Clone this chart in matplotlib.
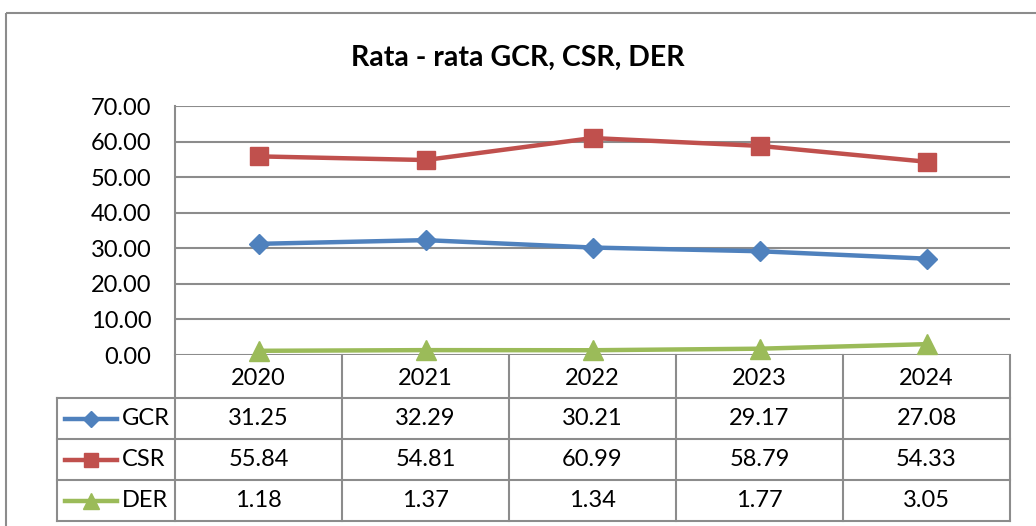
import matplotlib.pyplot as plt
from matplotlib.lines import Line2D
from matplotlib.patches import Rectangle

plt.rcParams["font.family"] = ["Lato", "DejaVu Sans"]

years = ["2020", "2021", "2022", "2023", "2024"]
gcr = [31.25, 32.29, 30.21, 29.17, 27.08]
csr = [55.84, 54.81, 60.99, 58.79, 54.33]
der = [1.18, 1.37, 1.34, 1.77, 3.05]
series_names = ["GCR", "CSR", "DER"]
yticks = [0, 10, 20, 30, 40, 50, 60, 70]

colors = ["#4F81BD", "#C0504D", "#9BBB59"]
markers = ["D", "s", "^"]
msizes = [10, 13, 15]
grid_c = "#8C8C8C"
fs = 17

W, H = 1036, 526
fig = plt.figure(figsize=(W / 100, H / 100), dpi=100)

# pixel-coordinate overlay
ov = fig.add_axes([0, 0, 1, 1])
ov.set_xlim(0, W)
ov.set_ylim(H, 0)
ov.axis("off")

# outer chart border
ov.add_patch(Rectangle((6, 13), 1100, 600, fill=False, ec="#8C8C8C", lw=1.5))

# plot area in pixels
px0, px1, py0, py1 = 175, 1010, 106, 355
ax = fig.add_axes([px0 / W, 1 - py1 / H, (px1 - px0) / W, (py1 - py0) / H])
ax.set_xlim(-0.5, len(years) - 0.5)
ax.set_ylim(0, 70)
ax.set_yticks(yticks)
ax.set_yticklabels([f"{v:.2f}" for v in yticks], fontsize=fs)
ax.set_xticks([])
ax.tick_params(axis="y", length=0, pad=17)
for s in ["top", "right", "bottom"]:
    ax.spines[s].set_visible(False)
ax.spines["left"].set_color(grid_c)
ax.spines["left"].set_linewidth(1.5)
ax.grid(axis="y", color=grid_c, lw=1.5)
ax.set_axisbelow(True)
ax.patch.set_alpha(0)

data = [gcr, csr, der]
x = list(range(len(years)))
for vals, c, m, ms in zip(data, colors, markers, msizes):
    ax.plot(x, vals, color=c, lw=3.2, marker=m, ms=ms, clip_on=False, zorder=3)

fig.text(0.5, 1 - 58 / H, "Rata - rata GCR, CSR, DER", ha="center", va="center",
         fontsize=20.5, fontweight="bold")

# data table
lx0 = 57
row_edges = [355, 398, 439, 480, 521]
colw = (px1 - px0) / len(years)
col_edges = [px0 + i * colw for i in range(len(years) + 1)]
tc = "#8C8C8C"
lw = 1.5
ov.plot([px0, px0], [row_edges[0], row_edges[-1]], color=tc, lw=lw)
for xe in col_edges[1:]:
    ov.plot([xe, xe], [row_edges[0], row_edges[-1]], color=tc, lw=lw)
ov.plot([lx0, lx0], [row_edges[1], row_edges[-1]], color=tc, lw=lw)
for ye in row_edges[1:]:
    ov.plot([lx0, px1], [ye, ye], color=tc, lw=lw)

for i, yr in enumerate(years):
    cx = (col_edges[i] + col_edges[i + 1]) / 2
    ov.text(cx, (row_edges[0] + row_edges[1]) / 2 + 2, yr, ha="center", va="center", fontsize=fs)
    for r, vals in enumerate(data):
        cy = (row_edges[r + 1] + row_edges[r + 2]) / 2
        ov.text(cx, cy, f"{vals[i]:.2f}", ha="center", va="center", fontsize=fs)

for r, (name, c, m, ms) in enumerate(zip(series_names, colors, markers, msizes)):
    cy = (row_edges[r + 1] + row_edges[r + 2]) / 2
    ov.add_line(Line2D([65, 117], [cy, cy], color=c, lw=3.2))
    ov.add_line(Line2D([91], [cy], color=c, marker=m, ms=ms * 0.8, lw=0))
    ov.text(122, cy, name, ha="left", va="center", fontsize=fs)

fig.savefig("out.png", dpi=100)
